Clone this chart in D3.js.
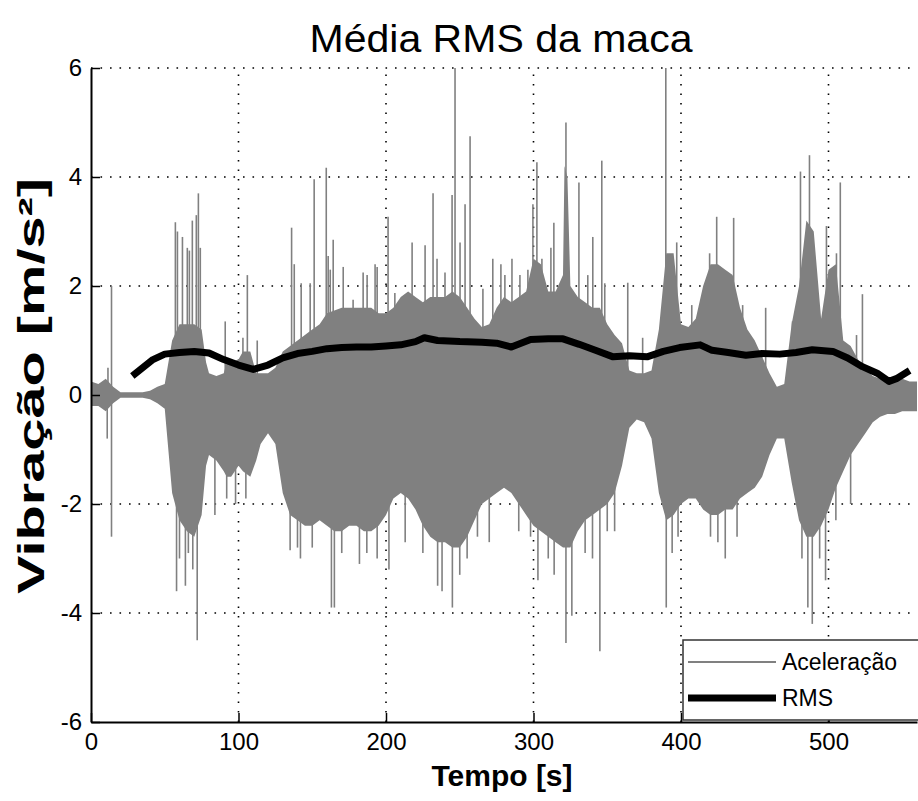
<!DOCTYPE html>
<html><head><meta charset="utf-8">
<script src="https://cdn.jsdelivr.net/npm/d3@7"></script>
<style>html,body{margin:0;padding:0;background:#fff;}svg{display:block;}</style>
</head><body>
<svg id="chart" width="918" height="801"></svg>
<script>
// ---- data ----
const xTicks = [0, 100, 200, 300, 400, 500];
const yTicks = [-6, -4, -2, 0, 2, 4, 6];
// dense core envelope of the acceleration signal
const envT = [0,5,10,15,20,25,30,35,40,45,50,55,60,65,70,75,78,80,85,90,92,95,100,103,108,112,115,120,125,130,135,140,145,150,155,160,165,170,175,180,185,190,195,200,205,210,215,220,225,230,235,240,245,250,255,260,265,270,275,280,285,290,295,300,305,310,315,320,321,323,325,330,335,340,345,350,355,360,365,370,375,380,385,390,395,400,405,410,415,420,425,430,435,440,445,450,455,460,465,470,475,480,485,490,495,500,505,510,515,520,525,530,535,540,545,550,555,560];
const envUpper = [0.25,0.2,0.3,0.15,0.05,0.05,0.05,0.05,0.08,0.15,0.2,1.0,1.3,1.3,1.3,1.2,0.6,0.4,0.35,0.4,0.6,0.6,0.65,0.8,0.8,0.4,0.4,0.4,0.5,0.8,0.9,1.0,1.1,1.2,1.3,1.5,1.55,1.6,1.6,1.6,1.6,1.6,1.5,1.5,1.6,1.8,1.9,1.8,1.7,1.8,1.8,1.8,1.9,1.8,1.6,1.4,1.25,1.3,1.6,1.8,1.7,1.8,1.9,2.5,2.4,1.9,1.9,2.2,4.2,4.0,2.0,1.8,1.7,1.6,1.6,1.3,1.1,0.95,0.45,0.4,0.4,0.45,1.2,2.6,2.6,1.3,1.25,1.4,2.0,2.4,2.4,2.3,2.2,1.6,1.2,1.0,0.7,0.4,0.15,0.2,1.3,2.0,3.2,3.0,1.4,2.3,2.4,1.0,0.9,0.65,0.5,0.35,0.3,0.25,0.3,0.3,0.25,0.25];
const envLower = [-0.2,-0.2,-0.3,-0.15,-0.05,-0.05,-0.05,-0.05,-0.08,-0.15,-0.25,-1.8,-2.3,-2.5,-2.6,-2.2,-1.3,-1.1,-1.2,-1.4,-1.5,-1.5,-1.3,-1.4,-1.5,-1.2,-0.9,-0.7,-0.9,-1.8,-2.2,-2.3,-2.4,-2.4,-2.3,-2.4,-2.5,-2.5,-2.4,-2.4,-2.5,-2.5,-2.4,-2.2,-1.9,-1.8,-1.9,-2.1,-2.4,-2.6,-2.7,-2.7,-2.8,-2.8,-2.6,-2.3,-2.0,-1.9,-1.8,-1.7,-1.8,-2.0,-2.2,-2.4,-2.5,-2.6,-2.7,-2.8,-2.8,-2.8,-2.8,-2.5,-2.3,-2.2,-2.1,-2.0,-1.8,-1.3,-0.6,-0.45,-0.5,-0.8,-1.8,-2.3,-2.2,-2.0,-1.9,-1.9,-2.1,-2.2,-2.2,-2.1,-2.1,-1.9,-1.8,-1.7,-1.5,-1.1,-0.8,-0.8,-1.6,-2.3,-2.6,-2.6,-2.4,-2.1,-1.7,-1.4,-1.1,-0.9,-0.7,-0.5,-0.4,-0.35,-0.35,-0.3,-0.3,-0.3];
// isolated peaks of the acceleration signal
const spikeT = [11.5,13.9,57.2,58.6,62,65.3,66.7,68.7,71.4,72.8,74.1,91,103,106,112.7,136,137.8,142.5,148.6,151.3,159.5,160.8,162.2,164.2,171,177.7,184.5,187.2,192.6,194,201.4,206,217.7,226.5,231.9,234.6,240,244.8,246.8,250.2,253.6,257,265.7,
  272.4,277.9,280.6,285.4,290.8,296.2,299.6,302.3,305.7,311.8,313.8,317.9,322,326,330.8,336.8,340.2,346.3,348.3,363.9,374,389.7,393.7,397.1,407.3,419.4,424.2,431.6,435.7,441.8,457.4,475.6,481,487.1,498.6,505.4,508,519,523,
  11,13.9,58,60,64,66,69,72,84,92,98,105,135,140,142,150,163,165,170,182,187,194,202,213,225,235,238,245,250,255,262,270,290,298,303,310,314,322,326,335,340,345,350,355,390,394,398,420,425,430,438,482,486,489,494,498,505,515];
const spikeV = [0.5,2.0,3.17,3.0,2.9,2.7,2.65,3.2,3.3,3.7,2.7,1.35,1.05,2.2,1.0,3.07,2.4,2.05,2.05,3.96,4.17,2.55,2.3,2.85,2.35,1.75,2.25,2.2,2.4,2.35,3.27,1.87,2.8,2.75,3.7,2.5,2.25,3.67,6.0,2.8,3.5,4.75,1.95,
  2.5,2.4,2.2,2.5,2.2,2.3,3.5,4.27,2.5,2.7,3.16,2.0,5.0,1.9,3.9,2.2,2.9,4.3,2.05,2.06,1.05,6.0,2.4,2.8,1.65,2.6,3.27,2.2,3.25,1.65,1.6,1.35,4.1,4.4,3.1,2.6,3.9,1.1,1.85,
  -0.8,-2.6,-3.6,-3.0,-3.5,-2.9,-3.2,-4.5,-2.2,-1.9,-2.0,-1.9,-2.85,-2.8,-3.0,-2.8,-3.9,-3.9,-2.9,-3.1,-2.9,-3.0,-3.2,-2.7,-2.9,-3.5,-3.6,-3.9,-3.3,-3.0,-2.6,-2.7,-2.5,-2.6,-3.4,-3.0,-3.3,-4.55,-4.05,-2.9,-3.0,-4.7,-2.5,-2.5,-3.9,-2.9,-2.6,-2.6,-2.7,-3.0,-2.6,-3.0,-3.9,-4.2,-3.0,-3.4,-2.3,-2.0];
// RMS average
const rmsT = [28,35,42,50,60,70,80,90,100,110,120,130,140,150,160,170,180,190,200,210,220,226,235,250,265,275,285,298,310,320,331,342,354,365,377,388,399,413,421,432,444,455,467,478,489,503,513,523,533,541,546,552,555];
const rmsV = [0.35,0.5,0.65,0.75,0.78,0.8,0.77,0.65,0.55,0.47,0.55,0.68,0.76,0.8,0.85,0.87,0.88,0.88,0.9,0.92,0.98,1.05,1.0,0.98,0.97,0.95,0.88,1.02,1.03,1.03,0.93,0.82,0.7,0.72,0.7,0.8,0.87,0.92,0.82,0.78,0.73,0.76,0.75,0.78,0.83,0.8,0.68,0.52,0.4,0.25,0.3,0.4,0.45];
const legendLabels = ["Aceleração", "RMS"];
const titleText = "Média RMS da maca";
const xLabel = "Tempo [s]";
const yLabel = "Vibração [m/s²]";

// ---- layout ----
const L = 91, T = 68, R = 917, B = 722;
const font = "'Liberation Sans', Arial, sans-serif";
const svg = d3.select("#chart");
const x = d3.scaleLinear().domain([0, 560]).range([L, R]);
const y = d3.scaleLinear().domain([-6, 6]).range([B, T]);

svg.append("defs").append("clipPath").attr("id", "clip")
  .append("rect").attr("x", L).attr("y", T).attr("width", R - L).attr("height", B - T);

// grid
const grid = svg.append("g");
grid.selectAll("line.gx").data(xTicks.filter(d => d > 0)).join("line")
  .attr("x1", d => x(d)).attr("x2", d => x(d)).attr("y1", B).attr("y2", T)
  .attr("stroke", "#000").attr("stroke-width", 1.6).attr("stroke-dasharray", "1.6,7.9");
grid.selectAll("line.gy").data(yTicks.filter(d => d > -6)).join("line")
  .attr("y1", d => y(d)).attr("y2", d => y(d)).attr("x1", L).attr("x2", R)
  .attr("stroke", "#000").attr("stroke-width", 1.6).attr("stroke-dasharray", "1.6,7.9");

const plot = svg.append("g").attr("clip-path", "url(#clip)");
const env = envT.map((t, i) => ({t, u: envUpper[i], l: envLower[i]}));
plot.append("path").datum(env)
  .attr("d", d3.area().x(d => x(d.t)).y0(d => y(d.l)).y1(d => y(d.u)))
  .attr("fill", "#808080");
plot.selectAll("line.spike").data(spikeT.map((t, i) => ({t, v: spikeV[i]}))).join("line")
  .attr("x1", d => x(d.t)).attr("x2", d => x(d.t)).attr("y1", y(0)).attr("y2", d => y(d.v))
  .attr("stroke", "#808080").attr("stroke-width", 1.6);

const rms = rmsT.map((t, i) => ({t, v: rmsV[i]}));
plot.append("path").datum(rms)
  .attr("d", d3.line().x(d => x(d.t)).y(d => y(d.v)))
  .attr("fill", "none").attr("stroke", "#000").attr("stroke-width", 7).attr("stroke-linejoin", "round");

// axes
const fmt = d => String(d);
const xAxis = svg.append("g").attr("transform", `translate(0,${B})`)
  .call(d3.axisBottom(x).tickValues(xTicks).tickSizeInner(-9).tickSizeOuter(0).tickPadding(11).tickFormat(fmt));
const yAxis = svg.append("g").attr("transform", `translate(${L},0)`)
  .call(d3.axisLeft(y).tickValues(yTicks).tickSizeInner(-9).tickSizeOuter(0).tickPadding(9).tickFormat(fmt));
[xAxis, yAxis].forEach(a => {
  a.select(".domain").attr("stroke", "#000").attr("stroke-width", 2);
  a.selectAll(".tick line").attr("stroke", "#000").attr("stroke-width", 1.5);
  a.selectAll(".tick text").attr("fill", "#000").attr("font-family", font).attr("font-size", 24);
});
xAxis.selectAll(".tick text").attr("dy", "0.71em");

// legend
const lg = svg.append("g");
lg.append("rect").attr("x", 683).attr("y", 640).attr("width", 240).attr("height", 80)
  .attr("fill", "#fff").attr("stroke", "#333").attr("stroke-width", 1.5);
lg.append("line").attr("x1", 688).attr("x2", 776).attr("y1", 662).attr("y2", 662)
  .attr("stroke", "#808080").attr("stroke-width", 2);
lg.append("line").attr("x1", 688).attr("x2", 776).attr("y1", 698).attr("y2", 698)
  .attr("stroke", "#000").attr("stroke-width", 7);
lg.selectAll("text").data(legendLabels).join("text")
  .attr("x", 782).attr("y", (d, i) => 662 + i * 36).attr("dy", "0.35em")
  .attr("font-family", font).attr("font-size", 23).attr("fill", "#000").text(d => d);

// titles
svg.append("text").attr("x", 501).attr("y", 52).attr("text-anchor", "middle")
  .attr("font-family", font).attr("font-size", 38).attr("fill", "#000")
  .attr("textLength", 383).attr("lengthAdjust", "spacingAndGlyphs").text(titleText);
svg.append("text").attr("x", 502).attr("y", 786).attr("text-anchor", "middle")
  .attr("font-family", font).attr("font-size", 30).attr("font-weight", "bold").attr("fill", "#000").text(xLabel);
svg.append("text").attr("transform", "translate(44,386) rotate(-90)").attr("text-anchor", "middle")
  .attr("font-family", font).attr("font-size", 36).attr("font-weight", "bold").attr("fill", "#000")
  .attr("textLength", 416).attr("lengthAdjust", "spacingAndGlyphs").text(yLabel);
</script>
</body></html>
